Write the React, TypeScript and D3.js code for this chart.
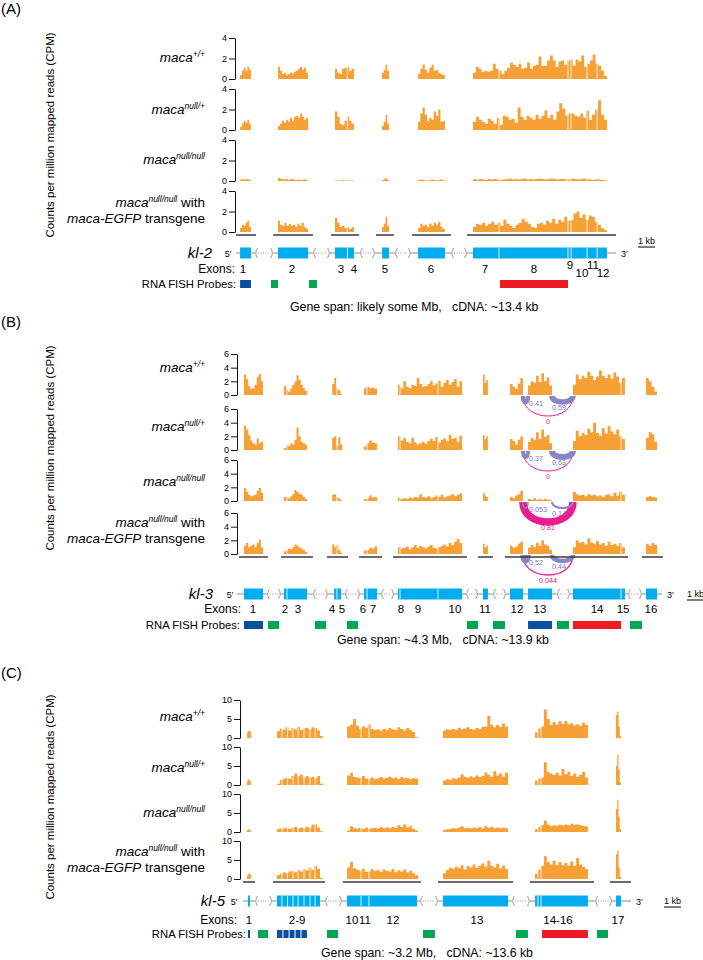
import React, { useEffect, useRef } from 'react';
import * as d3 from 'd3';

const FONT = '"Liberation Sans", Arial, Helvetica, sans-serif';
const ORANGE = '#f7a035';
const EXON = '#00aeef';
const LINE = '#8c8c8c';
const PURPLE = '#8a85c6';
const PINK = '#ec1c8c';
const PROBE_COLORS = { b: '#0c4fa0', g: '#00a651', r: '#ed1c24' };
const KB = 17; // px per kb, same scale bar in all three gene models

const trackSups = ['+/+', 'null/+', 'null/null', 'null/null'];
const yTitle = 'Counts per million mapped reads (CPM)';

// ---------- (A) kl-2, positions in kb from start of the gene model ----------
const kl2Exons = [[0.24, 0.88], [2.47, 4.24], [5.82, 6.55], [6.55, 6.94], [8.59, 9.0], [10.71, 12.29],
  [13.94, 15.47], [15.47, 19.53], [19.53, 19.71], [19.71, 20.65], [20.65, 21.24], [21.24, 21.82]];
const kl2Breaks = [[1.12, 2.18], [4.53, 5.53], [7.29, 8.18], [9.35, 10.29], [12.65, 13.59]];
const kl2Under = [[0, 1.18], [2.18, 4.53], [5.59, 7.24], [8.24, 9.29], [10.35, 12.65], [13.59, 22.35]];
const kl2Nums = [['1', 0.41, 0], ['2', 3.29, 0], ['3', 6.18, 0], ['4', 6.94, 0], ['5', 8.76, 0], ['6', 11.47, 0],
  ['7', 14.65, 0], ['8', 17.53, 0], ['9', 19.65, -1], ['10', 20.35, 1], ['11', 21.0, -1], ['12', 21.59, 1]];
const kl2Probes = [[0.24, 0.88, 'b'], [2.06, 2.47, 'g'], [4.29, 4.76, 'g'], [15.53, 19.53, 'r']];
const kl2Blocks = [[0.24, 0.88], [2.47, 4.24], [5.82, 6.94], [8.59, 9.0], [10.71, 12.29], [13.94, 21.82]];

const kl2Wt = [
  [0.4, 0.8, 1.1, 0.8, 1.2, 0.9],
  [1.2, 0.8, 0.5, 0.6, 0.4, 0.5, 0.6, 0.5, 0.7, 0.8, 1.0, 1.2, 0.9, 1.1, 0.6],
  [1.0, 0.6, 0.5, 1.0, 1.1, 1.2, 0.8, 1.0],
  [0.6, 0.9, 1.4, 0.8],
  [0.5, 1.0, 1.4, 0.9, 0.6, 1.1, 1.4, 0.8, 0.9, 0.6, 0.5, 0.4],
  [0.6, 1.2, 1.0, 0.7, 0.8, 0.7, 0.8, 1.5, 1.0, 0.8, 0.5, 0.8, 1.1, 1.6, 1.4, 1.2, 1.5, 1.0, 1.1, 1.6, 1.0, 1.3,
    1.4, 2.2, 1.3, 1.3, 1.8, 2.3, 1.8, 1.2, 1.7, 1.8, 1.4, 1.8, 1.9, 1.3, 1.9, 1.7, 2.3, 1.2, 1.5, 1.8, 2.4, 1.5,
    1.3, 0.8, 0.3],
];
const kl2Het = [
  [0.3, 0.6, 0.9, 0.7, 1.0, 0.6],
  [0.4, 0.6, 0.9, 0.7, 1.0, 0.8, 1.2, 0.9, 1.3, 1.4, 1.2, 1.6, 1.3, 1.0, 1.2],
  [1.8, 1.3, 0.6, 0.5, 0.9, 1.3, 0.9, 0.6],
  [0.4, 0.8, 1.5, 0.6],
  [0.8, 1.6, 2.2, 1.5, 0.9, 1.2, 1.0, 1.8, 1.4, 2.0, 0.8, 0.9],
  [0.8, 1.3, 1.0, 0.8, 0.6, 1.1, 0.9, 0.6, 1.2, 0.5, 1.4, 1.3, 1.0, 1.1, 0.7, 2.2, 1.3, 1.0, 1.4, 1.2, 1.0, 1.5,
    1.1, 1.4, 1.9, 1.2, 1.5, 1.0, 1.8, 2.6, 2.1, 1.4, 1.6, 1.6, 1.4, 1.3, 1.6, 1.2, 1.9, 1.0, 1.5, 2.0, 2.9, 1.5,
    1.0],
];
const kl2Null = [
  [0.15, 0.2, 0.15, 0.2, 0.1],
  [0.3, 0.2, 0.15, 0.2, 0.1, 0.2, 0.15, 0.1, 0.15, 0.1, 0.15, 0.1],
  [0.05, 0.05, 0.05, 0.1, 0.05, 0.05, 0.05, 0.05],
  [0.1, 0.2, 0.3, 0.1],
  [0.1, 0.15, 0.1, 0.05, 0.05, 0.1, 0.15, 0.1, 0.05, 0.1, 0.15, 0.05],
  [0.2, 0.1, 0.2, 0.15, 0.1, 0.2, 0.15, 0.2, 0.15, 0.1, 0.15, 0.2, 0.25, 0.15, 0.2, 0.15, 0.2, 0.25, 0.15, 0.2,
    0.15, 0.2, 0.25, 0.2, 0.15, 0.2, 0.25, 0.2, 0.15, 0.2, 0.2, 0.1, 0.2, 0.25, 0.2, 0.15, 0.2, 0.25, 0.2, 0.15,
    0.1, 0.2, 0.15, 0.1, 0.05],
];
const kl2Rescue = [
  [0.4, 0.7, 0.6, 0.9, 1.1, 0.5],
  [1.1, 0.7, 0.6, 0.9, 0.6, 0.8, 0.6, 0.7, 0.5, 0.8, 0.6, 0.9, 0.5, 0.3],
  [1.4, 0.9, 0.5, 0.6, 0.4, 0.5, 0.3, 0.5],
  [0.5, 0.8, 1.5, 0.6],
  [0.4, 0.8, 0.6, 0.7, 0.5, 0.8, 0.6, 0.9, 0.7, 1.0, 0.5, 0.3],
  [0.5, 0.8, 0.7, 0.9, 0.6, 0.8, 1.0, 0.7, 0.9, 0.6, 1.2, 0.8, 0.6, 0.4, 0.7, 0.9, 1.3, 1.0, 0.8, 0.5, 0.4, 0.8,
    0.9, 0.7, 1.1, 0.9, 1.3, 0.8, 1.2, 1.0, 1.5, 1.1, 1.2, 1.8, 2.0, 1.4, 1.7, 1.2, 1.6, 1.5, 1.0, 0.7, 0.4, 0.2],
];

// ---------- (B) kl-3 ----------
const kl3Exons = [[0.41, 1.53], [2.76, 2.94], [2.94, 4.12], [5.71, 5.88], [5.88, 6.12], [7.47, 7.65], [7.65, 8.24],
  [9.47, 9.59], [9.59, 11.82], [11.82, 13.24], [14.47, 14.76], [16.06, 16.82], [17.12, 18.53], [19.76, 22.59],
  [22.59, 22.82], [24.06, 24.71]];
const kl3Breaks = [[1.76, 2.59], [4.47, 5.35], [6.35, 7.24], [8.47, 9.24], [13.47, 14.18], [15.06, 15.82],
  [18.82, 19.59], [23.0, 23.82]];
const kl3Under = [[0.12, 1.82], [2.59, 4.47], [5.29, 6.53], [7.18, 8.53], [9.18, 13.53], [14.18, 15.06],
  [15.76, 23.0], [23.82, 25.06]];
const kl3Nums = [['1', 0.94, 0], ['2', 2.82, 0], ['3', 3.59, 0], ['4', 5.59, 0], ['5', 6.18, 0], ['6', 7.41, 0],
  ['7', 8.0, 0], ['8', 9.65, 0], ['9', 10.65, 0], ['10', 12.82, 0], ['11', 14.59, 0], ['12', 16.47, 0],
  ['13', 17.82, 0], ['14', 21.18, 0], ['15', 22.71, 0], ['16', 24.35, 0]];
const kl3Probes = [[0.41, 1.53, 'b'], [1.82, 2.47, 'g'], [4.59, 5.24, 'g'], [6.47, 7.12, 'g'], [13.53, 14.18, 'g'],
  [15.06, 15.76, 'g'], [17.12, 18.53, 'b'], [18.82, 19.53, 'g'], [19.76, 22.59, 'r'], [23.12, 23.82, 'g']];
const kl3Blocks = [[0.41, 1.53], [2.76, 4.12], [5.6, 6.2], [7.47, 8.24], [9.47, 13.24], [14.47, 14.76],
  [16.06, 16.82], [17.12, 18.53], [19.76, 22.82], [24.06, 24.71]];

const kl3Wt = [
  [3.0, 2.3, 1.3, 0.9, 1.0, 1.5, 2.6, 3.1, 2.0],
  [1.3, 0.8, 0.5, 1.0, 1.5, 2.0, 2.9, 2.2, 1.5, 1.0, 0.6],
  [1.6, 2.5, 1.0, 0.7, 0.1],
  [1.0, 1.2, 1.0, 1.1, 0.9],
  [1.5, 1.0, 2.0, 1.2, 1.0, 1.5, 1.3, 2.5, 1.6, 1.2, 1.3, 1.6, 2.0, 1.4, 1.7, 2.1, 1.2, 1.8, 2.2, 1.5, 1.9, 2.3,
    1.2, 2.0],
  [3.0, 1.8, 2.2],
  [1.6, 1.2, 0.9, 1.7, 2.5],
  [1.4, 2.0, 1.8, 2.8, 1.9, 3.2, 2.0, 2.6, 1.4],
  [1.5, 3.0, 2.3, 2.8, 2.5, 3.4, 2.8, 2.2, 2.7, 3.6, 2.8, 2.5, 3.0, 2.4, 3.3, 2.7, 1.8, 2.5],
  [2.5, 2.0, 1.2, 0.5],
];
const kl3Het = [
  [3.6, 3.0, 2.2, 1.4, 1.0, 0.8, 1.7, 1.0, 1.2],
  [0.3, 0.7, 0.6, 1.0, 0.8, 1.5, 3.3, 2.0, 1.2, 1.0, 0.8],
  [1.8, 2.0, 0.6, 1.9, 0.8],
  [0.5, 1.0, 1.4, 1.1, 1.0],
  [2.0, 1.4, 1.8, 1.2, 1.0, 1.8, 1.1, 0.8, 1.0, 1.2, 0.9, 1.3, 1.7, 1.3, 1.9, 1.1, 1.5, 1.7, 1.3, 2.2, 1.6, 1.8,
    1.2, 2.1],
  [2.2, 1.6, 2.0],
  [1.6, 1.3, 0.8, 1.5, 2.0],
  [1.2, 1.8, 1.5, 2.6, 1.6, 3.0, 1.9, 2.2, 1.0],
  [1.3, 2.8, 2.0, 2.5, 2.2, 3.1, 2.6, 4.0, 2.5, 2.1, 3.2, 2.4, 3.5, 2.7, 2.3, 3.0, 2.0, 1.6],
  [1.8, 2.6, 2.3, 1.2],
];
const kl3Null = [
  [1.9, 1.4, 0.9, 0.7, 0.8, 0.9, 1.5, 1.9, 1.2],
  [0.6, 0.5, 0.4, 0.7, 1.0, 1.6, 1.3, 1.1, 0.9, 0.6, 0.3],
  [0.9, 1.0, 0.5, 0.4, 0.1],
  [0.3, 0.4, 0.8, 0.5, 0.6],
  [0.5, 0.3, 0.4, 0.3, 0.5, 0.4, 0.6, 0.5, 1.0, 0.6, 0.5, 0.7, 0.4, 0.6, 0.8, 0.6, 0.9, 0.5, 0.7, 0.8, 1.0, 0.7,
    0.9, 1.1],
  [1.2, 0.8, 0.6],
  [0.6, 0.4, 0.8, 1.0, 1.5],
  [0.3, 0.2, 0.4, 0.2, 0.3, 0.2, 0.3, 0.2, 0.1],
  [1.3, 1.0, 0.8, 0.9, 0.7, 1.0, 0.8, 0.9, 0.7, 0.8, 0.6, 0.9, 1.0, 0.7, 1.2, 0.8, 1.4, 0.9],
  [0.6, 0.7, 0.6, 0.5],
];
const kl3Rescue = [
  [1.2, 1.6, 1.0, 1.2, 1.4, 1.0, 1.6, 2.1, 1.0],
  [0.4, 0.6, 0.8, 0.7, 1.0, 1.4, 1.2, 1.0, 0.8, 0.6, 0.3],
  [1.4, 1.0, 1.3, 0.6, 0.2],
  [0.5, 0.6, 0.9, 0.8, 1.1],
  [1.0, 0.8, 0.9, 1.1, 0.7, 1.0, 1.3, 0.9, 1.2, 1.0, 0.8, 1.1, 1.3, 0.9, 0.8, 1.0, 1.2, 1.4, 1.1, 1.6, 1.3, 1.8,
    2.2, 1.6],
  [1.5, 1.0, 1.2],
  [1.2, 0.9, 1.1, 1.5, 1.8],
  [0.9, 1.3, 1.0, 1.6, 1.2, 2.0, 1.4, 1.2, 0.6],
  [1.0, 2.0, 1.6, 1.8, 1.4, 2.3, 1.7, 1.5, 1.9, 1.4, 1.6, 1.2, 1.8, 1.3, 1.5, 1.2, 1.6, 1.0],
  [1.5, 1.2, 1.6, 1.3],
];
// splice junctions around exon 13: 12->13, 13->14, 12->14 (skip)
const kl3JunctionSpans = [[16.82, 17.12], [18.53, 19.76], [16.82, 19.76]];
const kl3JunctionValues = [[0.41, 0.59, 0], [0.37, 0.63, 0], [0.053, 0.14, 0.81], [0.52, 0.44, 0.044]];

// ---------- (C) kl-5 ----------
const kl5Exons = [[0.29, 0.41], [2.0, 2.29], [2.29, 2.62], [2.62, 2.94], [2.94, 3.24], [3.24, 3.59], [3.59, 3.94],
  [3.94, 4.24], [4.24, 4.53], [6.12, 6.94], [6.94, 7.41], [7.41, 10.24], [11.76, 15.59], [17.18, 17.35],
  [17.35, 17.53], [17.53, 20.29], [21.94, 22.24]];
const kl5Breaks = [[0.71, 1.71], [4.82, 5.82], [10.41, 11.47], [15.82, 16.88], [20.71, 21.71]];
const kl5Under = [[0, 0.71], [1.76, 4.82], [5.88, 10.47], [11.47, 15.88], [16.88, 20.65], [21.59, 22.82]];
const kl5Nums = [['1', 0.35, 0], ['2-9', 3.18, 0], ['10', 6.41, 0], ['11', 7.18, 0], ['12', 8.82, 0],
  ['13', 13.76, 0], ['14-16', 18.53, 0], ['17', 22.06, 0]];
const kl5Probes = [[0.29, 0.41, 'b'], [0.88, 1.47, 'g'], [2.0, 2.32, 'b'], [2.38, 2.68, 'b'], [2.74, 3.03, 'b'],
  [3.09, 3.38, 'b'], [3.44, 3.76, 'b'], [4.94, 5.59, 'g'], [10.59, 11.29, 'g'], [16.06, 16.76, 'g'],
  [17.59, 20.29, 'r'], [20.82, 21.47, 'g']];
const kl5Blocks = [[0.24, 0.47], [2.0, 4.7], [6.12, 10.3], [11.76, 15.59], [17.18, 20.29], [21.94, 22.24]];

const kl5Wt = [
  [1.5, 2.0, 1.8],
  [1.8, 2.5, 2.2, 2.8, 2.0, 2.6, 2.3, 2.9, 2.1, 2.5, 2.7, 2.2, 2.8, 2.6, 2.0, 0.5],
  [3.0, 3.5, 5.0, 3.2, 2.5, 3.0, 2.7, 3.6, 2.4, 2.1, 2.3, 2.0, 2.4, 2.2, 2.6, 2.3, 2.1, 2.8, 2.4, 2.0, 2.6, 2.2,
    1.6, 0.2],
  [2.0, 2.3, 2.1, 2.4, 2.2, 2.7, 2.3, 2.5, 2.8, 2.4, 2.2, 2.6, 2.4, 2.9, 3.0, 5.8, 3.5, 2.8, 3.4, 2.9, 3.8, 3.0],
  [1.5, 2.5, 3.0, 7.5, 5.0, 3.5, 4.2, 3.5, 4.4, 3.7, 4.5, 3.6, 3.9, 3.3, 3.6, 3.2, 4.0, 3.4],
  [6.0, 7.0, 3.0, 0.5],
];
const kl5Het = [
  [1.2, 1.6, 1.0],
  [0.3, 1.3, 1.6, 2.0, 1.6, 2.4, 3.0, 2.3, 2.7, 2.0, 2.4, 1.9, 2.2, 1.8, 2.4, 0.4],
  [2.5, 3.2, 2.1, 2.0, 1.8, 2.4, 1.7, 1.5, 2.0, 1.6, 1.8, 2.1, 1.7, 1.9, 2.2, 1.8, 2.0, 1.6, 2.1, 1.8, 1.9, 1.5,
    1.8, 1.7],
  [1.2, 1.5, 1.4, 1.8, 1.6, 2.0, 2.8, 2.2, 1.9, 2.3, 2.0, 2.5, 2.1, 2.4, 3.3, 2.6, 2.2, 3.6, 2.5, 3.0, 2.2, 3.2],
  [1.2, 1.7, 2.0, 6.0, 3.5, 3.0, 2.6, 3.2, 2.5, 4.2, 2.8, 3.5, 2.4, 3.0, 2.2, 2.7, 3.5, 2.0],
  [5.0, 8.0, 4.0, 0.8],
];
const kl5Null = [
  [0.5, 0.8, 0.4],
  [0.8, 1.0, 0.9, 1.2, 0.8, 1.1, 1.3, 0.9, 1.2, 1.0, 1.4, 1.1, 1.9, 2.0, 1.2, 0.2],
  [0.4, 1.5, 1.0, 0.9, 1.1, 0.8, 1.2, 0.9, 1.0, 1.1, 0.9, 1.3, 1.0, 1.2, 1.0, 1.4, 1.1, 1.8, 1.3, 2.0, 1.2, 1.5,
    0.8, 0.4],
  [0.5, 0.7, 0.8, 1.0, 0.9, 1.2, 1.5, 1.0, 1.1, 0.9, 1.2, 1.0, 1.3, 0.9, 1.5, 1.1, 1.4, 1.0, 1.2, 1.0, 1.1, 1.0],
  [0.8, 1.3, 1.8, 3.0, 2.0, 1.5, 1.8, 1.6, 1.9, 1.7, 2.0, 1.8, 2.2, 1.9, 2.0, 1.8, 1.6, 1.5],
  [6.0, 8.5, 4.0, 0.8],
];
const kl5Rescue = [
  [1.0, 1.5, 1.2],
  [1.0, 1.4, 1.8, 1.5, 2.0, 2.2, 1.8, 2.4, 2.0, 2.6, 2.3, 3.0, 2.4, 3.4, 2.6, 0.3],
  [3.0, 4.5, 2.8, 2.5, 2.2, 2.7, 1.9, 2.0, 2.6, 2.1, 2.4, 1.9, 2.5, 2.2, 2.0, 2.6, 1.8, 2.3, 2.0, 2.5, 1.7, 2.2,
    1.5, 1.0],
  [1.5, 2.4, 3.0, 2.6, 3.2, 2.8, 3.6, 2.5, 3.4, 3.0, 3.8, 2.9, 3.5, 4.1, 3.2, 4.8, 3.5, 3.0, 4.0, 2.8, 3.5, 2.6],
  [1.4, 2.5, 3.5, 6.0, 4.5, 3.8, 4.8, 3.7, 4.5, 3.6, 4.2, 3.5, 4.6, 3.4, 5.5, 3.8, 3.2, 2.6],
  [6.5, 7.5, 3.0, 0.6],
];

// layout of each panel (pixels)
const panels = [
  {
    letter: '(A)', letterY: 14, gene: 'kl-2', origin: 236, length: 22.35, axisX: 235,
    yMax: 4, yTicks: [0, 2, 4], tops: [38, 89, 140, 191], trackH: 41,
    labelY: [62, 114, 164, 207, 222.5], titleY: 135, underY: 235, geneY: 253,
    geneLabelX: 212, fiveX: 228, numY: 273, exonsRight: 235, probeY: 280, probesRight: 236,
    spanX: 290, spanY: 311, spanA: 'Gene span: likely some Mb,', spanB: 'cDNA: ~13.4 kb',
    scaleX: 638, scaleY: 247,
    exons: kl2Exons, breaks: kl2Breaks, under: kl2Under, nums: kl2Nums, probes: kl2Probes,
    blocks: kl2Blocks, coverage: [kl2Wt, kl2Het, kl2Null, kl2Rescue], junctions: null,
  },
  {
    letter: '(B)', letterY: 327, gene: 'kl-3', origin: 237, length: 25.0, axisX: 237,
    yMax: 6, yTicks: [0, 2, 4, 6], tops: [354, 409, 460, 513], trackH: 41,
    labelY: [372, 431, 486, 527, 542.5], titleY: 448, underY: 557, geneY: 594,
    geneLabelX: 213, fiveX: 230, numY: 613, exonsRight: 241, probeY: 621, probesRight: 240,
    spanX: 337, spanY: 644, spanA: 'Gene span: ~4.3 Mb,', spanB: 'cDNA: ~13.9 kb',
    scaleX: 687, scaleY: 600,
    exons: kl3Exons, breaks: kl3Breaks, under: kl3Under, nums: kl3Nums, probes: kl3Probes,
    blocks: kl3Blocks, coverage: [kl3Wt, kl3Het, kl3Null, kl3Rescue], junctions: kl3JunctionValues,
  },
  {
    letter: '(C)', letterY: 678, gene: 'kl-5', origin: 243, length: 22.82, axisX: 240,
    yMax: 10, yTicks: [0, 5, 10], tops: [700, 747, 794, 841], trackH: 38,
    labelY: [721, 772, 817, 856, 871.5], titleY: 797, underY: 882, geneY: 901,
    geneLabelX: 225, fiveX: 234, numY: 924, exonsRight: 237, probeY: 930, probesRight: 246,
    spanX: 321, spanY: 957, spanA: 'Gene span: ~3.2 Mb,', spanB: 'cDNA: ~13.6 kb',
    scaleX: 664, scaleY: 907,
    exons: kl5Exons, breaks: kl5Breaks, under: kl5Under, nums: kl5Nums, probes: kl5Probes,
    blocks: kl5Blocks, coverage: [kl5Wt, kl5Het, kl5Null, kl5Rescue], junctions: null,
  },
];

function drawPanel(svg, p) {
  const x = d3.scaleLinear().domain([0, p.length]).range([p.origin, p.origin + p.length * KB]);
  const g = svg.append('g').attr('font-family', FONT);

  g.append('text').attr('x', 1).attr('y', p.letterY).attr('font-size', 15).text(p.letter);
  g.append('text')
    .attr('transform', `translate(54,${p.titleY}) rotate(-90)`)
    .attr('text-anchor', 'middle').attr('font-size', 11.5).text(yTitle);

  // seams between touching exons
  const seams = [];
  for (let i = 1; i < p.exons.length; i++) {
    if (Math.abs(p.exons[i][0] - p.exons[i - 1][1]) < 0.001) seams.push(p.exons[i][0]);
  }

  const area = d3.area().curve(d3.curveStepAfter);

  p.tops.forEach((top, ti) => {
    const y = d3.scaleLinear().domain([0, p.yMax]).range([top + p.trackH, top]);
    const cov = p.coverage[ti];
    p.blocks.forEach((b, bi) => {
      const vals = cov[bi];
      const step = (b[1] - b[0]) / vals.length;
      const pts = vals.map((v, i) => [b[0] + i * step, v]);
      pts.push([b[1], vals[vals.length - 1]]);
      g.append('path')
        .attr('d', area.x(d => x(d[0])).y0(y(0)).y1(d => y(d[1]))(pts))
        .attr('fill', ORANGE);
    });
    g.selectAll(null).data(seams).enter().append('line')
      .attr('x1', d => x(d)).attr('x2', d => x(d))
      .attr('y1', top).attr('y2', y(0))
      .attr('stroke', '#fff').attr('stroke-width', 0.8);

    const ax = g.append('g').attr('transform', `translate(${p.axisX},0)`)
      .call(d3.axisLeft(y).tickValues(p.yTicks).tickFormat(d3.format('d'))
        .tickSize(6).tickSizeOuter(0).tickPadding(2));
    ax.attr('font-family', FONT).attr('font-size', 9);
    ax.selectAll('line, path').attr('stroke', '#111');

    // track label
    const lx = 205;
    const t = g.append('text').attr('x', lx).attr('y', p.labelY[ti]).attr('text-anchor', 'end')
      .attr('font-size', 13.5).style('white-space', 'pre');
    t.append('tspan').attr('font-style', 'italic').text('maca');
    t.append('tspan').attr('font-style', 'italic').attr('font-size', 8.5).attr('dy', -5.5).text(trackSups[ti]);
    if (ti === 3) {
      t.append('tspan').attr('dy', 5.5).text(' with');
      const t2 = g.append('text').attr('x', lx).attr('y', p.labelY[4]).attr('text-anchor', 'end')
        .attr('font-size', 13.5).style('white-space', 'pre');
      t2.append('tspan').attr('font-style', 'italic').text('maca-EGFP');
      t2.append('tspan').text(' transgene');
    }

    // sashimi arcs
    if (p.junctions) {
      const base = y(0) + 1;
      const vals = p.junctions[ti];
      const depths = [6, 6, 20];
      const order = [2, 0, 1];
      order.forEach(k => {
        const [s, e] = kl3JunctionSpans[k];
        const x1 = x(s), x2 = x(e), d = depths[k] * 4 / 3;
        g.append('path')
          .attr('d', `M${x1},${base} C${x1},${base + d} ${x2},${base + d} ${x2},${base}`)
          .attr('fill', 'none').attr('stroke', k === 2 ? PINK : PURPLE)
          .attr('stroke-width', 1 + 8 * vals[k]);
      });
      const fs = 7.2;
      g.append('text').attr('x', x(kl3JunctionSpans[0][1]) + 1).attr('y', base + 10)
        .attr('font-size', fs).attr('fill', '#7d78b8').text(String(vals[0]));
      g.append('text').attr('x', x(kl3JunctionSpans[1][0])).attr('y', base + 14)
        .attr('font-size', fs).attr('fill', '#7d78b8').text(String(vals[1]));
      g.append('text').attr('x', (x(kl3JunctionSpans[2][0]) + x(kl3JunctionSpans[2][1])) / 2).attr('y', base + 28)
        .attr('text-anchor', 'middle').attr('font-size', fs).attr('fill', PINK).text(String(vals[2]));
    }
  });

  // black underlines
  g.selectAll(null).data(p.under).enter().append('line')
    .attr('x1', d => x(d[0])).attr('x2', d => x(d[1]))
    .attr('y1', p.underY).attr('y2', p.underY)
    .attr('stroke', '#3a3a3a').attr('stroke-width', 1.5);

  // gene model backbone with broken introns
  const gy = p.geneY;
  const solid = [];
  let cur = 0;
  p.breaks.forEach(b => { solid.push([cur, b[0]]); cur = b[1]; });
  solid.push([cur, p.length]);
  g.selectAll(null).data(solid).enter().append('line')
    .attr('x1', d => x(d[0])).attr('x2', d => x(d[1])).attr('y1', gy).attr('y2', gy)
    .attr('stroke', LINE).attr('stroke-width', 1);
  p.breaks.forEach(b => {
    const a = x(b[0]), c = x(b[1]);
    g.append('line').attr('x1', a + 3).attr('x2', c - 3).attr('y1', gy).attr('y2', gy)
      .attr('stroke', LINE).attr('stroke-width', 0.9).attr('stroke-dasharray', '1,1.4');
    g.append('path').attr('d', `M${a + 2.5},${gy - 5} Q${a - 1},${gy} ${a + 2.5},${gy + 5}`)
      .attr('fill', 'none').attr('stroke', LINE).attr('stroke-width', 0.9);
    g.append('path').attr('d', `M${c - 2.5},${gy - 5} Q${c + 1},${gy} ${c - 2.5},${gy + 5}`)
      .attr('fill', 'none').attr('stroke', LINE).attr('stroke-width', 0.9);
  });
  g.selectAll(null).data(p.exons).enter().append('rect')
    .attr('x', d => x(d[0])).attr('width', d => Math.max(1.2, x(d[1]) - x(d[0])))
    .attr('y', gy - 5.5).attr('height', 11).attr('fill', EXON);
  g.selectAll(null).data(seams).enter().append('line')
    .attr('x1', d => x(d)).attr('x2', d => x(d)).attr('y1', gy - 5.5).attr('y2', gy + 5.5)
    .attr('stroke', '#fff').attr('stroke-width', 0.8);

  g.append('text').attr('x', p.geneLabelX).attr('y', gy + 5).attr('text-anchor', 'end')
    .attr('font-size', 15).attr('font-style', 'italic').text(p.gene);
  g.append('text').attr('x', p.fiveX).attr('y', gy + 3.5).attr('text-anchor', 'middle')
    .attr('font-size', 9).text('5\u2032');
  g.append('text').attr('x', x(p.length) + 5).attr('y', gy + 3.5)
    .attr('font-size', 9).text('3\u2032');

  // exon numbers
  g.append('text').attr('x', p.exonsRight).attr('y', p.numY).attr('text-anchor', 'end')
    .attr('font-size', 12).text('Exons:');
  g.selectAll(null).data(p.nums).enter().append('text')
    .attr('x', d => x(d[1])).attr('y', d => p.numY + d[2] * 4)
    .attr('text-anchor', 'middle').attr('font-size', 11.5).text(d => d[0]);

  // probes
  g.append('text').attr('x', p.probesRight).attr('y', p.probeY + 8).attr('text-anchor', 'end')
    .attr('font-size', 11.3).text('RNA FISH Probes:');
  g.selectAll(null).data(p.probes).enter().append('rect')
    .attr('x', d => x(d[0])).attr('width', d => Math.max(1.5, x(d[1]) - x(d[0])))
    .attr('y', p.probeY).attr('height', 8).attr('fill', d => PROBE_COLORS[d[2]]);

  // gene span
  const st = g.append('text').attr('x', p.spanX).attr('y', p.spanY).attr('font-size', 12.3)
    .style('white-space', 'pre');
  st.append('tspan').text(p.spanA + '   ');
  st.append('tspan').text(p.spanB);

  // 1 kb scale bar
  const w = x(1) - x(0);
  g.append('line').attr('x1', p.scaleX).attr('x2', p.scaleX + w).attr('y1', p.scaleY).attr('y2', p.scaleY)
    .attr('stroke', '#555').attr('stroke-width', 1.5);
  g.append('text').attr('x', p.scaleX + w / 2).attr('y', p.scaleY - 3).attr('text-anchor', 'middle')
    .attr('font-size', 9).text('1 kb');
}

const App = () => {
  const svgRef = useRef(null);

  useEffect(() => {
    const svg = d3.select(svgRef.current);
    svg.selectAll('*').remove();
    panels.forEach(p => drawPanel(svg, p));
  }, []);

  return (
    <svg ref={svgRef} width={703} height={960}
      style={{ position: 'absolute', left: 0, top: 0, background: '#fff' }} />
  );
};

export default App;
